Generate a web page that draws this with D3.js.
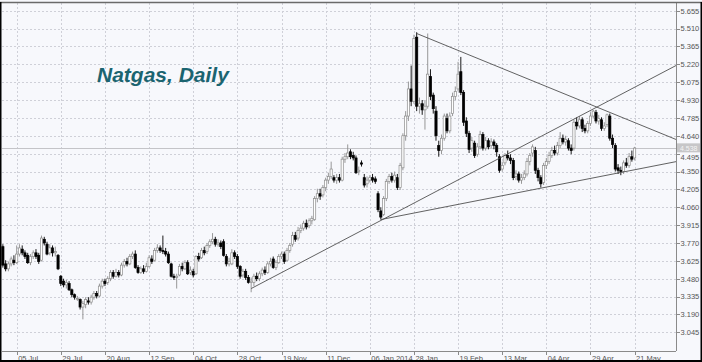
<!DOCTYPE html>
<html>
<head>
  <meta charset="utf-8">
  <script src="https://cdn.jsdelivr.net/npm/d3@7/dist/d3.min.js"></script>
  <style type="text/css">
    body { margin: 0; background: #f7f8fc; }
    svg { display: block; font-family: "Liberation Sans", Arial, sans-serif; }
    .axis text { font-size: 7.5px; fill: #555; }
    .axis path, .axis line { stroke: #8a8a8a; shape-rendering: crispEdges; }
    .grid line { stroke: #cfd0d8; stroke-dasharray: 2,2; shape-rendering: crispEdges; }
  </style>
</head>
<body>
<script type="text/javascript">

// daily bars, 28 Jun 2013 .. 21 May 2014 (bar index 0..229)
const opens = [
  3.74,3.60,3.56,3.60,3.63,3.61,3.68,3.72,3.69,3.67,
  3.61,3.66,3.69,3.67,3.63,3.80,3.76,3.69,3.73,3.69,
  3.67,3.50,3.46,3.43,3.44,3.39,3.35,3.32,3.31,3.25,
  3.27,3.30,3.29,3.33,3.36,3.34,3.42,3.46,3.45,3.48,
  3.53,3.50,3.53,3.51,3.59,3.62,3.60,3.66,3.68,3.57,
  3.53,3.56,3.54,3.58,3.64,3.63,3.71,3.73,3.71,3.70,
  3.68,3.60,3.50,3.49,3.51,3.58,3.56,3.61,3.53,3.54,
  3.52,3.66,3.65,3.71,3.70,3.75,3.78,3.80,3.76,3.77,
  3.78,3.66,3.60,3.60,3.69,3.66,3.58,3.51,3.54,3.49,
  3.45,3.45,3.50,3.48,3.52,3.55,3.53,3.60,3.64,3.57,
  3.61,3.66,3.68,3.63,3.71,3.76,3.83,3.81,3.87,3.89,
  3.93,3.91,3.95,3.96,4.13,4.17,4.16,4.22,4.28,4.31,
  4.30,4.28,4.30,4.28,4.45,4.47,4.51,4.48,4.46,4.35,
  4.42,4.30,4.25,4.28,4.30,4.29,4.17,4.03,4.00,4.13,
  4.27,4.31,4.28,4.30,4.22,4.38,4.64,4.80,5.02,4.92,
  5.44,4.88,4.90,4.85,4.88,5.12,4.97,4.84,4.56,4.52,
  4.62,4.78,4.68,4.82,4.96,5.02,5.16,4.99,4.76,4.66,
  4.54,4.58,4.49,4.55,4.65,4.54,4.60,4.56,4.59,4.56,
  4.47,4.37,4.42,4.48,4.46,4.44,4.31,4.33,4.28,4.30,
  4.33,4.43,4.50,4.52,4.36,4.30,4.26,4.40,4.43,4.48,
  4.52,4.50,4.56,4.62,4.59,4.60,4.54,4.54,4.75,4.72,
  4.77,4.70,4.68,4.74,4.80,4.83,4.76,4.77,4.70,4.73,
  4.80,4.62,4.56,4.38,4.36,4.35,4.42,4.40,4.47,4.46
];
const highs = [
  3.76,3.63,3.62,3.66,3.67,3.75,3.76,3.75,3.71,3.69,
  3.68,3.71,3.72,3.69,3.83,3.82,3.78,3.76,3.75,3.74,
  3.68,3.51,3.48,3.47,3.46,3.40,3.36,3.34,3.32,3.30,
  3.33,3.33,3.35,3.38,3.38,3.44,3.48,3.48,3.50,3.55,
  3.55,3.56,3.55,3.61,3.64,3.65,3.68,3.70,3.71,3.59,
  3.58,3.59,3.61,3.67,3.67,3.73,3.76,3.75,3.83,3.73,
  3.70,3.61,3.52,3.52,3.60,3.61,3.63,3.63,3.58,3.56,
  3.67,3.69,3.73,3.74,3.77,3.80,3.85,3.82,3.80,3.79,
  3.80,3.68,3.65,3.72,3.71,3.68,3.59,3.56,3.56,3.51,
  3.49,3.52,3.53,3.54,3.57,3.58,3.62,3.65,3.66,3.63,
  3.68,3.70,3.70,3.73,3.77,3.86,3.86,3.90,3.92,3.95,
  3.96,3.97,3.99,4.15,4.21,4.21,4.24,4.30,4.34,4.43,
  4.32,4.33,4.33,4.47,4.50,4.57,4.53,4.51,4.48,4.39,
  4.44,4.33,4.31,4.32,4.33,4.31,4.19,4.06,4.15,4.29,
  4.33,4.34,4.35,4.33,4.42,4.66,4.84,5.08,5.21,5.46,
  5.48,4.95,4.93,4.93,5.47,5.18,4.99,4.88,4.60,4.65,
  4.82,4.82,4.83,4.99,5.04,5.24,5.28,5.01,4.79,4.68,
  4.63,4.60,4.58,4.68,4.67,4.63,4.62,4.62,4.61,4.58,
  4.49,4.43,4.50,4.52,4.49,4.46,4.36,4.35,4.33,4.36,
  4.46,4.50,4.57,4.55,4.38,4.32,4.42,4.46,4.51,4.55,
  4.56,4.59,4.67,4.65,4.64,4.62,4.57,4.77,4.79,4.80,
  4.79,4.73,4.76,4.83,4.85,4.85,4.81,4.79,4.75,4.82,
  4.82,4.65,4.58,4.41,4.39,4.44,4.46,4.50,4.52,4.55
];
const lows = [
  3.57,3.54,3.54,3.58,3.59,3.60,3.66,3.67,3.64,3.60,
  3.59,3.64,3.64,3.60,3.62,3.75,3.67,3.67,3.66,3.66,
  3.55,3.42,3.41,3.40,3.38,3.33,3.31,3.30,3.23,3.15,
  3.24,3.27,3.27,3.31,3.32,3.33,3.40,3.42,3.43,3.46,
  3.48,3.49,3.49,3.50,3.57,3.58,3.59,3.64,3.56,3.52,
  3.52,3.52,3.53,3.57,3.60,3.62,3.69,3.69,3.68,3.66,
  3.60,3.49,3.47,3.40,3.50,3.54,3.55,3.51,3.51,3.49,
  3.51,3.62,3.64,3.67,3.68,3.73,3.76,3.74,3.74,3.72,
  3.66,3.58,3.58,3.59,3.64,3.56,3.48,3.49,3.47,3.44,
  3.37,3.42,3.46,3.46,3.50,3.51,3.52,3.58,3.56,3.55,
  3.60,3.64,3.60,3.62,3.69,3.74,3.78,3.79,3.85,3.87,
  3.88,3.89,3.92,3.95,4.10,4.12,4.14,4.19,4.25,4.29,
  4.26,4.25,4.26,4.27,4.42,4.45,4.45,4.44,4.33,4.32,
  4.39,4.22,4.22,4.26,4.26,4.25,4.02,3.96,3.99,4.11,
  4.25,4.26,4.26,4.20,4.20,4.36,4.60,4.76,4.88,4.90,
  4.84,4.82,4.81,4.69,4.86,4.93,4.82,4.60,4.47,4.49,
  4.60,4.66,4.66,4.80,4.93,5.00,4.97,4.72,4.63,4.50,
  4.51,4.46,4.47,4.53,4.52,4.52,4.53,4.54,4.53,4.47,
  4.34,4.35,4.40,4.44,4.41,4.28,4.28,4.26,4.25,4.28,
  4.31,4.40,4.47,4.33,4.27,4.22,4.24,4.37,4.41,4.46,
  4.48,4.48,4.54,4.57,4.56,4.52,4.49,4.52,4.69,4.70,
  4.67,4.66,4.66,4.72,4.78,4.74,4.73,4.68,4.68,4.71,
  4.60,4.54,4.35,4.33,4.32,4.33,4.38,4.38,4.43,4.44
];
const closes = [
  3.59,3.56,3.60,3.64,3.61,3.68,3.73,3.69,3.66,3.61,
  3.66,3.69,3.66,3.62,3.81,3.77,3.68,3.73,3.69,3.70,
  3.56,3.44,3.43,3.45,3.39,3.35,3.33,3.32,3.25,3.28,
  3.31,3.29,3.33,3.36,3.34,3.42,3.46,3.44,3.48,3.53,
  3.50,3.53,3.51,3.59,3.62,3.60,3.66,3.68,3.57,3.53,
  3.56,3.54,3.58,3.65,3.62,3.71,3.73,3.71,3.70,3.68,
  3.61,3.50,3.49,3.50,3.58,3.56,3.61,3.52,3.55,3.51,
  3.66,3.64,3.71,3.69,3.75,3.78,3.80,3.76,3.77,3.74,
  3.67,3.60,3.62,3.69,3.66,3.58,3.50,3.54,3.49,3.45,
  3.46,3.50,3.48,3.52,3.55,3.53,3.60,3.62,3.57,3.61,
  3.66,3.68,3.62,3.71,3.75,3.83,3.80,3.87,3.89,3.93,
  3.90,3.95,3.97,4.13,4.17,4.15,4.22,4.28,4.31,4.37,
  4.28,4.30,4.28,4.45,4.47,4.50,4.47,4.46,4.34,4.36,
  4.41,4.24,4.28,4.30,4.28,4.27,4.04,3.98,4.13,4.27,
  4.31,4.28,4.32,4.22,4.40,4.64,4.80,5.02,4.92,5.43,
  4.88,4.90,4.85,4.88,5.14,4.96,4.86,4.64,4.52,4.62,
  4.80,4.68,4.80,4.96,5.00,5.14,4.99,4.75,4.66,4.53,
  4.60,4.48,4.55,4.65,4.54,4.60,4.55,4.59,4.56,4.51,
  4.36,4.40,4.48,4.46,4.44,4.30,4.33,4.28,4.30,4.33,
  4.43,4.48,4.55,4.36,4.30,4.25,4.40,4.43,4.48,4.52,
  4.50,4.56,4.62,4.59,4.61,4.54,4.52,4.75,4.72,4.77,
  4.70,4.68,4.74,4.80,4.84,4.76,4.78,4.70,4.72,4.81,
  4.62,4.57,4.37,4.36,4.35,4.42,4.40,4.47,4.45,4.54
];

// axis labels
const yTicks = [3.045,3.190,3.335,3.480,3.625,3.770,3.915,4.060,4.205,4.350,
                4.495,4.640,4.785,4.930,5.075,5.220,5.365,5.510,5.655];
const xTickBars = [5,21,37,53,69,85,101,117,133,149,165,181,197,213,229];
const xTickLabels = ['05 Jul','29 Jul','20 Aug','12 Sep','04 Oct','28 Oct','19 Nov','11 Dec',
                     '06 Jan 2014','28 Jan','19 Feb','13 Mar','04 Apr','29 Apr','21 May'];

// trend lines drawn on the chart: [bar, price] pairs
const trendLines = [
  [[90, 3.40], [244, 5.21]],
  [[150, 5.47], [244, 4.61]],
  [[137, 3.96], [244, 4.43]]
];
const lastPrice = 4.538;

const W = 702, H = 362;
const plot = {left: 1.5, top: 3, right: 676, bottom: 351};

const svg = d3.select('body').append('svg')
  .attr('width', W)
  .attr('height', H);

svg.append('rect').attr('width', W).attr('height', H).attr('fill', '#f7f8fc');

const x = d3.scaleLinear().domain([-0.5, 244]).range([plot.left, plot.right]);
const y = d3.scaleLinear().domain([3.045, 5.655]).range([332.3, 10.7]);

// grid
const grid = svg.append('g').attr('class', 'grid');
grid.selectAll('.hg').data(yTicks).enter().append('line')
  .attr('x1', plot.left).attr('x2', plot.right)
  .attr('y1', d => Math.round(y(d)) + 0.5).attr('y2', d => Math.round(y(d)) + 0.5);
grid.selectAll('.vg').data(xTickBars).enter().append('line')
  .attr('y1', plot.top).attr('y2', plot.bottom)
  .attr('x1', d => Math.round(x(d)) + 0.5).attr('x2', d => Math.round(x(d)) + 0.5);

// current price line
svg.append('line')
  .attr('x1', plot.left).attr('x2', plot.right)
  .attr('y1', Math.round(y(lastPrice)) + 0.5).attr('y2', Math.round(y(lastPrice)) + 0.5)
  .attr('stroke', '#c4c4c8').attr('shape-rendering', 'crispEdges');

// title
svg.append('text')
  .attr('x', 97).attr('y', 82)
  .attr('font-size', 21).attr('font-weight', 'bold').attr('font-style', 'italic')
  .attr('fill', '#1b6470')
  .text('Natgas, Daily');

// candles
const bars = d3.range(closes.length).map(i => ({
  i: i, o: opens[i], h: highs[i], l: lows[i], c: closes[i], up: closes[i] >= opens[i]
}));

const candle = svg.append('g').selectAll('g').data(bars).enter().append('g');
candle.append('line')
  .attr('x1', d => x(d.i)).attr('x2', d => x(d.i))
  .attr('y1', d => y(d.h)).attr('y2', d => y(d.l))
  .attr('stroke', d => d.up ? '#8c8c8c' : '#000')
  .attr('stroke-width', 0.9);
candle.append('rect')
  .attr('x', d => x(d.i) - 1.1)
  .attr('width', 2.2)
  .attr('y', d => y(Math.max(d.o, d.c)))
  .attr('height', d => Math.max(0.8, Math.abs(y(d.o) - y(d.c))))
  .attr('fill', d => d.up ? '#fff' : '#000')
  .attr('stroke', d => d.up ? '#8c8c8c' : '#000')
  .attr('stroke-width', 0.7);

// trend lines
svg.append('g').selectAll('line').data(trendLines).enter().append('line')
  .attr('x1', d => x(d[0][0])).attr('y1', d => y(d[0][1]))
  .attr('x2', d => x(d[1][0])).attr('y2', d => y(d[1][1]))
  .attr('stroke', '#505050').attr('stroke-width', 0.9);

// axes
const axisY = d3.axisRight(y).tickValues(yTicks).tickFormat(d3.format('.3f')).tickSize(3).tickPadding(1);
svg.append('g').attr('class', 'axis')
  .attr('transform', `translate(${plot.right + 0.5},0)`)
  .call(axisY)
  .call(g => g.select('.domain').attr('d', `M0,${plot.top}V${plot.bottom}`))
  // label next to the price tag is pushed down, as in the terminal
  .call(g => g.selectAll('.tick text').filter(d => Math.abs(y(d) - y(lastPrice)) < 9)
    .attr('dy', '0.32em').attr('y', 3));

const axisX = d3.axisBottom(x).tickValues(xTickBars).tickFormat((d, i) => xTickLabels[i]).tickSize(3).tickPadding(1);
svg.append('g').attr('class', 'axis')
  .attr('transform', `translate(0,${plot.bottom + 0.5})`)
  .call(axisX)
  .call(g => g.select('.domain').attr('d', `M${plot.left},0H${plot.right}`))
  .call(g => g.selectAll('text').attr('text-anchor', 'start').attr('dx', 1));

// price tag
svg.append('rect')
  .attr('x', plot.right + 1).attr('y', y(lastPrice) - 5)
  .attr('width', 23).attr('height', 9)
  .attr('fill', '#c6c6c8');
svg.append('text')
  .attr('x', plot.right + 4).attr('y', y(lastPrice) + 2.5)
  .attr('font-size', 7).attr('fill', '#f4f4f4')
  .text(d3.format('.3f')(lastPrice));

// frame
svg.append('line').attr('x1', 0).attr('x2', W).attr('y1', 2.5).attr('y2', 2.5)
  .attr('stroke', '#6a6a6a').attr('stroke-width', 1.5);
svg.append('line').attr('x1', 0.75).attr('x2', 0.75).attr('y1', 2).attr('y2', H)
  .attr('stroke', '#000').attr('stroke-width', 1.5);
svg.append('line').attr('x1', 0).attr('x2', W).attr('y1', H - 1).attr('y2', H - 1)
  .attr('stroke', '#000').attr('stroke-width', 2);
svg.append('line').attr('x1', W - 0.75).attr('x2', W - 0.75).attr('y1', 2).attr('y2', H)
  .attr('stroke', '#000').attr('stroke-width', 1.5);

</script>
</body>
</html>
